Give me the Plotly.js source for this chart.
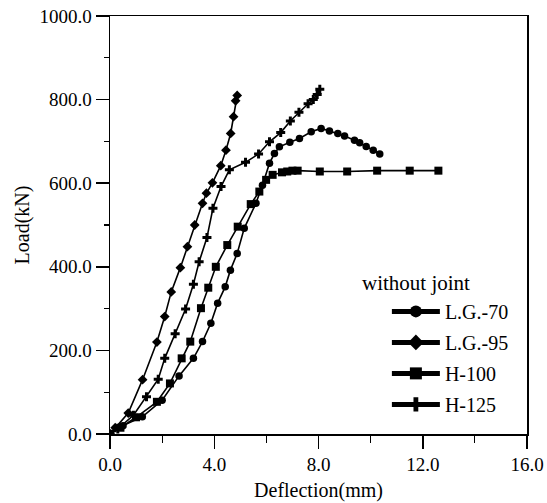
<!DOCTYPE html>
<html>
<head>
<meta charset="utf-8">
<script src="https://cdn.plot.ly/plotly-3.0.1.min.js"></script>
<style>html,body{margin:0;padding:0;background:#fff;}#chart{width:547px;height:503px;}</style>
</head>
<body>
<div id="chart"></div>
<script>
// Series names
const seriesNames = ["L.G.-70", "L.G.-95", "H-100", "H-125"];
const legendTitle = "without joint";

// L.G.-70 (rises, peaks ~735 kN, then softens)
const lg70X = [0, 0.5, 1.24, 2.0, 2.65, 3.2, 3.55, 3.87, 4.13, 4.42, 4.62, 4.88, 5.15, 5.6, 5.85, 6.12, 6.31, 6.5, 6.9, 7.27, 7.72, 8.1, 8.42, 8.74, 9.0, 9.38, 9.58, 9.83, 10.1, 10.35];
const lg70Y = [0, 20, 41, 81, 139, 181, 221, 265, 313, 352, 392, 432, 492, 552, 595, 648, 671, 687, 698, 707, 723, 731, 725, 719, 713, 703, 697, 688, 679, 670];

// L.G.-95 (steepest, ends ~810 kN)
const lg95X = [0, 0.2, 0.7, 1.25, 1.8, 2.1, 2.35, 2.7, 2.97, 3.25, 3.55, 3.7, 3.93, 4.25, 4.45, 4.63, 4.74, 4.82, 4.88];
const lg95Y = [0, 15, 50, 130, 220, 281, 340, 398, 448, 500, 552, 576, 601, 642, 679, 719, 759, 797, 810];

// H-100 (plateau ~630 kN)
const h100X = [0, 0.4, 1.0, 1.8, 2.3, 2.75, 3.08, 3.49, 3.77, 4.06, 4.5, 4.9, 5.4, 5.73, 5.99, 6.24, 6.6, 6.8, 7.0, 7.2, 8.05, 9.1, 10.25, 11.5, 12.6];
const h100Y = [0, 15, 40, 77, 121, 181, 221, 301, 350, 400, 452, 496, 550, 580, 608, 620, 626, 628, 630, 630, 628, 628, 630, 630, 630];

// H-125 (bends at ~630 kN, ends ~825 kN)
const h125X = [0, 0.3, 0.9, 1.4, 1.85, 2.1, 2.5, 2.9, 3.2, 3.42, 3.72, 3.95, 4.26, 4.58, 5.2, 5.7, 6.12, 6.55, 6.92, 7.25, 7.6, 7.8, 7.95, 8.05];
const h125Y = [0, 12, 45, 89, 131, 181, 240, 299, 358, 412, 470, 540, 592, 632, 650, 670, 699, 721, 749, 770, 790, 800, 812, 825];

const xTickVals = [0, 4, 8, 12, 16];
const xTickText = ["0.0", "4.0", "8.0", "12.0", "16.0"];
const yTickVals = [0, 200, 400, 600, 800, 1000];
const yTickText = ["0.0", "200.0", "400.0", "600.0", "800.0", "1000.0"];

const xs = [lg70X, lg95X, h100X, h125X];
const ys = [lg70Y, lg95Y, h100Y, h125Y];
const symbols = ["circle", "diamond", "square", "cross"];
const sizes = [7.5, 7.5, 8, 7.5];

const traces = seriesNames.map((n, i) => ({
  x: xs[i], y: ys[i], name: n, type: "scatter", mode: "lines+markers",
  legendgroup: "g" + i,
  line: {color: "#000", width: 1.6},
  marker: {symbol: symbols[i], size: sizes[i], color: "#000"}
}));

const font = "Liberation Serif, Times New Roman, serif";
const layout = {
  width: 547, height: 503,
  margin: {l: 110, r: 20, t: 16, b: 69},
  paper_bgcolor: "#fff", plot_bgcolor: "#fff",
  font: {family: font, size: 19, color: "#000"},
  showlegend: true,
  legend: {
    x: 0.664, y: 0.34, xanchor: "left", yanchor: "top",
    bgcolor: "rgba(0,0,0,0)",
    font: {family: font, size: 20, color: "#000"},
    itemsizing: "constant",
    itemwidth: 48,
    traceorder: "grouped",
    tracegroupgap: 2
  },
  annotations: [{
    text: legendTitle, xref: "paper", yref: "paper", x: 0.734, y: 0.361,
    xanchor: "center", yanchor: "middle", showarrow: false,
    font: {family: font, size: 21, color: "#000"}
  }],
  xaxis: {
    range: [0, 16], showgrid: false, zeroline: false,
    showline: true, linecolor: "#000", linewidth: 1.5, mirror: true,
    ticks: "outside", ticklen: 13, tickwidth: 1.5, tickcolor: "#000",
    tickvals: xTickVals, ticktext: xTickText,
    tickfont: {family: font, size: 19},
    minor: {dtick: 2, ticks: "outside", ticklen: 7, tickwidth: 1.2, tickcolor: "#000", showgrid: false},
    title: {text: "Deflection(mm)", font: {family: font, size: 20}, standoff: 8}
  },
  yaxis: {
    range: [0, 1000], showgrid: false, zeroline: false,
    showline: true, linecolor: "#000", linewidth: 1.5, mirror: true,
    ticks: "outside", ticklen: 13, tickwidth: 1.5, tickcolor: "#000",
    tickvals: yTickVals, ticktext: yTickText,
    tickfont: {family: font, size: 19},
    minor: {dtick: 100, ticks: "outside", ticklen: 5, tickwidth: 1.2, tickcolor: "#000", showgrid: false},
    title: {text: "Load(kN)", font: {family: font, size: 20}, standoff: 4}
  }
};

Plotly.newPlot("chart", traces, layout, {displayModeBar: false, staticPlot: true});
</script>
</body>
</html>
